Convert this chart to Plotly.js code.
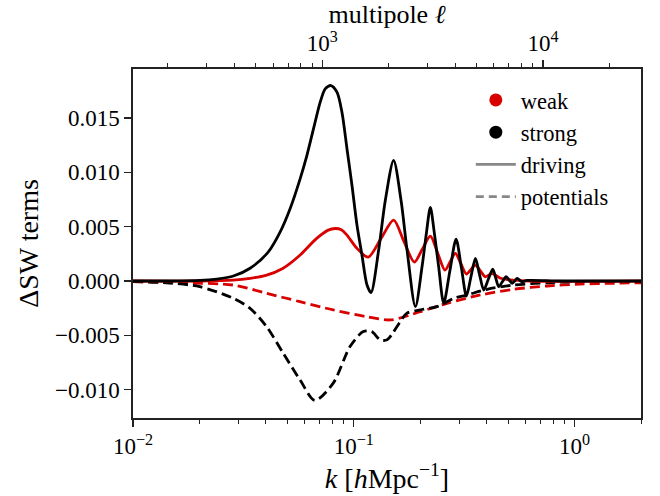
<!DOCTYPE html>
<html>
<head>
<meta charset="utf-8">
<script src="https://cdn.plot.ly/plotly-3.0.1.min.js"></script>
<style>html,body{margin:0;padding:0;background:#fff;}#chart{width:660px;height:496px;}</style>
</head>
<body>
<div id="chart"></div>
<script>
// wavenumber k [h/Mpc] and ΔSW values
const kStrongDriving = [0.01, 0.01472, 0.02013, 0.02396, 0.02850, 0.03393, 0.04094, 0.04642, 0.05152, 0.05719,
  0.06135, 0.06572, 0.07047, 0.07425, 0.07880, 0.08393, 0.08841, 0.09315, 0.09813, 0.1034,
  0.1089, 0.1148, 0.1197, 0.1296, 0.1390, 0.1515, 0.1637, 0.1743, 0.1901, 0.2038,
  0.2132, 0.2223, 0.2318, 0.2424, 0.2555, 0.2724, 0.2907, 0.3074, 0.3237, 0.3393,
  0.3556, 0.3708, 0.3879, 0.4064, 0.4261, 0.4396, 0.4535, 0.4716, 0.4899, 0.5057,
  0.5218, 0.5356, 0.5497, 0.5749, 0.6101, 0.8630, 2.0];
const strongDriving = [0, 0, 0.00005, 0.00018, 0.00046, 0.00117, 0.00266, 0.00452, 0.00667, 0.00942,
  0.01156, 0.01401, 0.01645, 0.01768, 0.01798, 0.01737, 0.01553, 0.01217, 0.00881, 0.00514,
  0.00239, -0.00037, -0.00107, 0.00284, 0.00743, 0.01110, 0.00743, 0.00284, -0.00236, 0.00131,
  0.00438, 0.00676, 0.00438, 0.00131, -0.00205, 0.00092, 0.00385, 0.00119, -0.00138, 0.00037,
  0.00208, 0.00064, -0.00083, 0.00014, 0.00110, 0.00028, -0.00052, -0.00005, 0.00039, 0.00009,
  -0.00021, 0, 0.00025, -0.00005, 0.00005, 0, 0];

const kWeakDriving = [0.01, 0.02013, 0.02844, 0.03393, 0.04001, 0.04767, 0.05684, 0.06773, 0.07661, 0.08242,
  0.08776, 0.09315, 0.1034, 0.1163, 0.1328, 0.1515, 0.1689, 0.1881, 0.2045, 0.2223,
  0.2399, 0.2587, 0.2734, 0.2885, 0.3056, 0.3237, 0.3393, 0.3556, 0.3747, 0.3949,
  0.4234, 0.4617, 0.4967, 0.6318, 2.0];
const weakDriving = [0, 0, 0.00009, 0.00025, 0.00052, 0.00115, 0.00234, 0.00390, 0.00468, 0.00483,
  0.00472, 0.00422, 0.00300, 0.00220, 0.00390, 0.00560, 0.00362, 0.00174, 0.00294, 0.00413,
  0.00257, 0.00101, 0.00177, 0.00254, 0.00159, 0.00064, 0.00106, 0.00147, 0.00092, 0.00039,
  0.00069, 0.00025, 0.00014, 0, 0];

const kWeakPot = [0.01, 0.01687, 0.02844, 0.04027, 0.05702, 0.08072, 0.1143, 0.1466, 0.2004, 0.2649,
  0.3750, 0.5309, 0.7516, 1.064, 1.507, 2.0];
const weakPotentials = [-0.00006, -0.00016, -0.00037, -0.00113, -0.00190, -0.00266, -0.00328, -0.00358, -0.00282, -0.00205,
  -0.00128, -0.00076, -0.00046, -0.00028, -0.00021, -0.00016];

const kStrongPot = [0.01, 0.01416, 0.02004, 0.02844, 0.03381, 0.04027, 0.04786, 0.05702, 0.06668, 0.08072,
  0.09616, 0.1104, 0.1205, 0.1318, 0.1416, 0.1742, 0.2004, 0.2382, 0.2838, 0.3258,
  0.4018, 0.5309, 0.7516, 1.064, 2.0];
const strongPotentials = [-0.00006, -0.00016, -0.00052, -0.00159, -0.00250, -0.00419, -0.00663, -0.00908, -0.01098, -0.00939,
  -0.00603, -0.00465, -0.00465, -0.00541, -0.00541, -0.00296, -0.00266, -0.00236, -0.00159, -0.00128,
  -0.00076, -0.00037, -0.00016, -0.00006, -0.00003];

const legendLabels = ["weak", "strong", "driving", "potentials"];
const xTickVals = [0.01, 0.1, 1];
const xTickText = ["10<sup>−2</sup>", "10<sup>−1</sup>", "10<sup>0</sup>"];
const lTickVals = [1000, 10000];
const lTickText = ["10<sup>3</sup>", "10<sup>4</sup>"];
const yTickVals = [-0.010, -0.005, 0, 0.005, 0.010, 0.015];

const RED = "#d90000", BLACK = "#000000", GRAY = "#888888";
const FONT = "Liberation Serif, DejaVu Serif, serif";
const DASH = "10px,5px";

function minorLog(lo, hi) {
  const v = [];
  for (let d = lo; d < hi; d *= 10) for (let m = 2; m <= 9; m++) v.push(m * d);
  return v;
}

const traces = [
  {x: kWeakPot, y: weakPotentials, mode: "lines", line: {color: RED, width: 2.8, dash: DASH, shape: "spline", smoothing: 0.8}, showlegend: false, hoverinfo: "skip"},
  {x: kStrongPot, y: strongPotentials, mode: "lines", line: {color: BLACK, width: 2.8, dash: DASH, shape: "spline", smoothing: 0.8}, showlegend: false, hoverinfo: "skip"},
  {x: kWeakDriving, y: weakDriving, mode: "lines", line: {color: RED, width: 2.8, shape: "spline", smoothing: 0.8}, showlegend: false, hoverinfo: "skip"},
  {x: kStrongDriving, y: strongDriving, mode: "lines", line: {color: BLACK, width: 2.8, shape: "spline", smoothing: 0.8}, showlegend: false, hoverinfo: "skip"},
  {x: [null], y: [null], xaxis: "x2", mode: "markers", marker: {color: RED, size: 13}, name: legendLabels[0]},
  {x: [null], y: [null], xaxis: "x2", mode: "markers", marker: {color: BLACK, size: 13}, name: legendLabels[1]},
  {x: [null], y: [null], xaxis: "x2", mode: "lines", line: {color: GRAY, width: 2.8}, name: legendLabels[2]},
  {x: [null], y: [null], xaxis: "x2", mode: "lines", line: {color: GRAY, width: 2.8, dash: "8px,5px"}, name: legendLabels[3]}
];

const axisCommon = {showline: true, linecolor: "#222", linewidth: 1.6, ticks: "outside", ticklen: 7, tickwidth: 1.2, tickcolor: "#222",
  showgrid: false, zeroline: false, tickfont: {family: FONT, size: 23, color: "#000"}};

const layout = {
  width: 660, height: 496,
  margin: {l: 133, r: 19, t: 69, b: 78},
  paper_bgcolor: "#fff", plot_bgcolor: "#fff",
  font: {family: FONT, color: "#000"},
  showlegend: true,
  legend: {x: 0.665, y: 0.972, xanchor: "left", yanchor: "top", bgcolor: "rgba(0,0,0,0)", borderwidth: 0,
    font: {family: FONT, size: 22.5, color: "#000"}, itemwidth: 40},
  xaxis: Object.assign({}, axisCommon, {type: "log", range: [-2, Math.log10(2)], tickmode: "array", tickvals: xTickVals, ticktext: xTickText,
    minor: {tickvals: minorLog(0.01, 2).filter(v => v <= 2), ticks: "outside", ticklen: 4, tickwidth: 1, tickcolor: "#222"},
    mirror: false, side: "bottom", anchor: "y",
    title: {text: "<i>k</i> [<i>h</i>Mpc<sup>−1</sup>]", font: {family: FONT, size: 28}, standoff: 4}}),
  xaxis2: Object.assign({}, axisCommon, {type: "log", overlaying: "x", side: "top", anchor: "y", range: [2.143, 2.143 + (Math.log10(2) + 2)],
    tickmode: "array", tickvals: lTickVals, ticktext: lTickText,
    minor: {tickvals: minorLog(100, 30000).filter(v => v <= 27000), ticks: "outside", ticklen: 4, tickwidth: 1, tickcolor: "#222"},
    title: {text: "multipole <i>ℓ</i>", font: {family: FONT, size: 26}, standoff: 7}}),
  yaxis: Object.assign({}, axisCommon, {range: [-0.0126, 0.0195], tickmode: "array", tickvals: yTickVals, tickformat: ".3f",
    mirror: true, title: {text: "ΔSW terms", font: {family: FONT, size: 28}, standoff: 8}})
};

Plotly.newPlot("chart", traces, layout, {staticPlot: true, displayModeBar: false});
</script>
</body>
</html>
